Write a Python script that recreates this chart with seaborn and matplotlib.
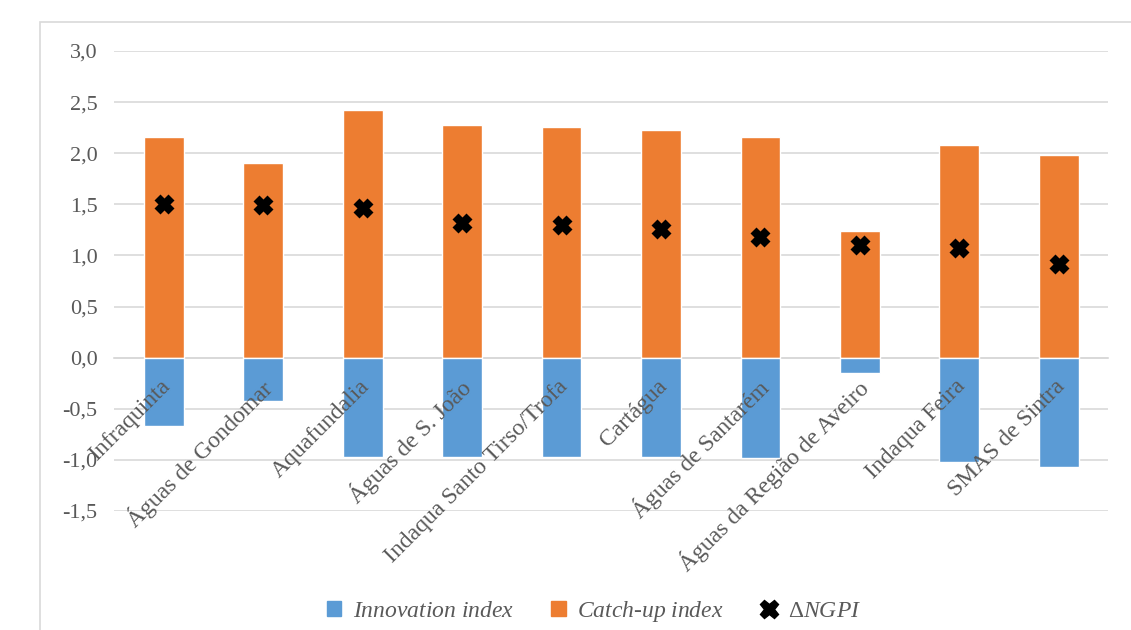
import numpy as np
import matplotlib
matplotlib.use("Agg")
import matplotlib.pyplot as plt
import matplotlib.transforms as mtransforms
from matplotlib.lines import Line2D
from matplotlib.patches import Patch, Rectangle
from matplotlib.ticker import FuncFormatter
import seaborn as sns

# Data
companies = ["Infraquinta", "Águas de Gondomar", "Aquafundalia", "Águas de S. João",
             "Indaqua Santo Tirso/Trofa", "Cartágua", "Águas de Santarém",
             "Águas da Região de Aveiro", "Indaqua Feira", "SMAS de Sintra"]
catchup_index = [2.16, 1.90, 2.42, 2.28, 2.26, 2.23, 2.16, 1.24, 2.08, 1.98]
innovation_index = [-0.67, -0.42, -0.97, -0.97, -0.97, -0.97, -0.98, -0.15, -1.02, -1.07]
delta_ngpi = [1.50, 1.49, 1.46, 1.32, 1.30, 1.26, 1.18, 1.10, 1.07, 0.92]

blue = "#5b9bd5"
orange = "#ed7d31"
grey_text = "#595959"

sns.set_theme(style="white")
plt.rcParams["font.family"] = ["Liberation Serif", "DejaVu Serif"]
plt.rcParams["mathtext.fontset"] = "custom"
plt.rcParams["mathtext.rm"] = "Liberation Serif"
plt.rcParams["mathtext.it"] = "Liberation Serif:italic"

fig = plt.figure(figsize=(11.31, 6.30), dpi=100)
ax = fig.add_axes([0.101, 0.189, 0.879, 0.730])

# outer chart frame
fig.patches.append(Rectangle((40 / 1131, -0.01), 1.1, 1 - 22 / 630 + 0.01,
                             transform=fig.transFigure, fill=False,
                             edgecolor="#d9d9d9", linewidth=1.2, zorder=0))

sns.barplot(x=companies, y=catchup_index, color=orange, width=0.4,
            saturation=1, ax=ax, zorder=3)
sns.barplot(x=companies, y=innovation_index, color=blue, width=0.4,
            saturation=1, ax=ax, zorder=3)
sns.pointplot(x=companies, y=delta_ngpi, color="black", linestyle="none",
              marker="X", markersize=12, ax=ax, zorder=5)

ax.set_xlim(-0.5, len(companies) - 0.5)
ax.set_ylim(-1.5, 3.0)
ax.set_yticks(np.arange(-1.5, 3.01, 0.5))
ax.yaxis.set_major_formatter(FuncFormatter(lambda v, p: f"{v:.1f}".replace(".", ",")))
ax.grid(axis="y", color="#d9d9d9", linewidth=1.2, zorder=0)
ax.set_axisbelow(True)
for s in ["top", "right", "left"]:
    ax.spines[s].set_visible(False)
ax.spines["bottom"].set_position(("data", 0))
ax.spines["bottom"].set_color("#d9d9d9")
ax.tick_params(axis="y", length=0, labelsize=16, labelcolor=grey_text, pad=12)
ax.tick_params(axis="x", length=0, labelsize=17, labelcolor=grey_text, pad=13)
ax.xaxis.set_zorder(6)  # category labels drawn over the bars
ax.set_xlabel("")
ax.set_ylabel("")
shift = mtransforms.ScaledTranslation(-3 / 72, 0, fig.dpi_scale_trans)
for lbl in ax.get_xticklabels():
    lbl.set_rotation(45)
    lbl.set_ha("right")
    lbl.set_va("top")
    lbl.set_rotation_mode("anchor")
    lbl.set_transform(lbl.get_transform() + shift)

handles = [Patch(color=blue), Patch(color=orange),
           Line2D([], [], marker="X", color="black", linestyle="none", markersize=13)]
labels = [r"$\mathit{Innovation\ index}$", r"$\mathit{Catch}$-$\mathit{up\ index}$",
          r"$\Delta\mathit{NGPI}$"]
leg = fig.legend(handles, labels, loc="center", bbox_to_anchor=(0.525, 0.029), ncol=3,
                 frameon=False, fontsize=17, handlelength=0.6, handleheight=0.6,
                 columnspacing=1.6, handletextpad=0.5)
for t in leg.get_texts():
    t.set_color(grey_text)

fig.savefig("out.png", dpi=100)
